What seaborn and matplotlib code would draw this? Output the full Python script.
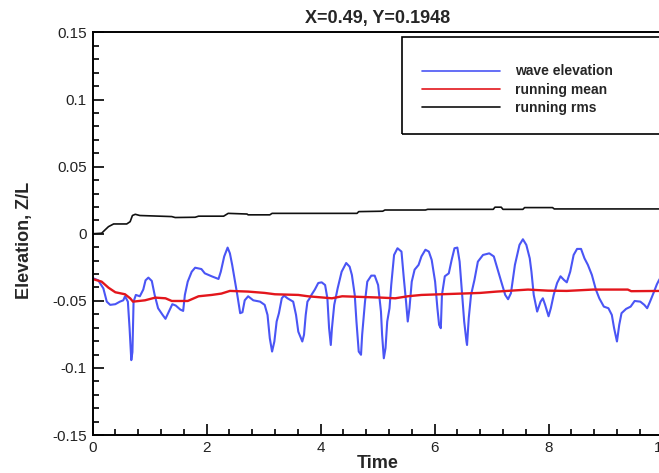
import numpy as np
import pandas as pd
import matplotlib
matplotlib.use("Agg")
import matplotlib.pyplot as plt
from matplotlib.ticker import FixedLocator, MultipleLocator
from matplotlib.patches import Rectangle
import seaborn as sns

# wave elevation probe record
wave_t = [0.00, 0.10, 0.19, 0.25, 0.31, 0.40, 0.48, 0.54, 0.57, 0.62, 0.65, 0.68, 0.70, 0.72,
          0.76, 0.83, 0.89, 0.93, 0.98, 1.04, 1.09, 1.15, 1.23, 1.28, 1.34, 1.40, 1.46, 1.54,
          1.59, 1.62, 1.67, 1.74, 1.80, 1.91, 1.97, 2.09, 2.21, 2.25, 2.31, 2.37, 2.41, 2.45,
          2.50, 2.54, 2.59, 2.63, 2.67, 2.73, 2.82, 2.94, 3.02, 3.07, 3.11, 3.15, 3.19, 3.23,
          3.27, 3.32, 3.36, 3.42, 3.52, 3.57, 3.61, 3.68, 3.71, 3.74, 3.77, 3.81, 3.84, 3.90,
          3.96, 4.02, 4.08, 4.12, 4.15, 4.18, 4.20, 4.24, 4.30, 4.37, 4.45, 4.51, 4.55, 4.60,
          4.63, 4.67, 4.71, 4.73, 4.78, 4.82, 4.89, 4.95, 5.01, 5.06, 5.08, 5.11, 5.14, 5.17,
          5.21, 5.24, 5.29, 5.35, 5.42, 5.46, 5.50, 5.53, 5.56, 5.60, 5.65, 5.72, 5.77, 5.84,
          5.90, 5.95, 6.01, 6.05, 6.08, 6.11, 6.13, 6.18, 6.25, 6.30, 6.35, 6.40, 6.44, 6.48,
          6.52, 6.56, 6.57, 6.60, 6.64, 6.70, 6.76, 6.85, 6.96, 7.04, 7.10, 7.17, 7.24, 7.29,
          7.34, 7.41, 7.49, 7.55, 7.61, 7.67, 7.70, 7.74, 7.80, 7.86, 7.90, 7.94, 8.00, 8.04,
          8.09, 8.15, 8.21, 8.27, 8.32, 8.38, 8.44, 8.50, 8.57, 8.63, 8.69, 8.76, 8.83, 8.89,
          8.97, 9.05, 9.11, 9.15, 9.20, 9.24, 9.28, 9.36, 9.44, 9.51, 9.61, 9.68, 9.73, 9.78,
          9.84, 9.90, 9.93, 10.00]
wave_z = [-0.0330, -0.0347, -0.0407, -0.0506, -0.0530, -0.0525, -0.0506, -0.0496, -0.0466,
          -0.0506, -0.0704, -0.0942, -0.0882, -0.0506, -0.0456, -0.0466, -0.0416, -0.0347,
          -0.0327, -0.0352, -0.0456, -0.0555, -0.0605, -0.0634, -0.0580, -0.0525, -0.0535,
          -0.0565, -0.0575, -0.0456, -0.0357, -0.0283, -0.0253, -0.0263, -0.0295, -0.0317,
          -0.0337, -0.0283, -0.0169, -0.0103, -0.0146, -0.0232, -0.0357, -0.0456, -0.0592,
          -0.0585, -0.0496, -0.0466, -0.0496, -0.0506, -0.0530, -0.0605, -0.0779, -0.0878,
          -0.0803, -0.0654, -0.0592, -0.0481, -0.0461, -0.0481, -0.0506, -0.0605, -0.0730,
          -0.0803, -0.0753, -0.0605, -0.0506, -0.0481, -0.0456, -0.0416, -0.0367, -0.0362,
          -0.0382, -0.0481, -0.0704, -0.0829, -0.0704, -0.0530, -0.0407, -0.0283, -0.0218,
          -0.0245, -0.0307, -0.0456, -0.0654, -0.0878, -0.0902, -0.0753, -0.0506, -0.0357,
          -0.0312, -0.0312, -0.0382, -0.0580, -0.0753, -0.0928, -0.0852, -0.0654, -0.0555,
          -0.0382, -0.0158, -0.0108, -0.0133, -0.0327, -0.0506, -0.0654, -0.0555, -0.0357,
          -0.0268, -0.0232, -0.0169, -0.0119, -0.0133, -0.0195, -0.0357, -0.0555, -0.0679,
          -0.0704, -0.0456, -0.0317, -0.0295, -0.0195, -0.0108, -0.0103, -0.0208, -0.0431,
          -0.0654, -0.0803, -0.0829, -0.0629, -0.0456, -0.0344, -0.0208, -0.0158, -0.0146,
          -0.0169, -0.0257, -0.0357, -0.0456, -0.0488, -0.0443, -0.0232, -0.0083, -0.0041,
          -0.0083, -0.0183, -0.0283, -0.0456, -0.0580, -0.0506, -0.0481, -0.0530, -0.0615,
          -0.0555, -0.0456, -0.0367, -0.0317, -0.0344, -0.0362, -0.0283, -0.0158, -0.0113,
          -0.0113, -0.0183, -0.0232, -0.0307, -0.0416, -0.0481, -0.0543, -0.0555, -0.0605,
          -0.0704, -0.0803, -0.0679, -0.0592, -0.0560, -0.0543, -0.0501, -0.0506, -0.0530,
          -0.0555, -0.0506, -0.0443, -0.0377, -0.0352, -0.0300]

# running mean of the elevation
mean_t = [0.00, 0.16, 0.28, 0.40, 0.57, 0.66, 0.71, 0.92, 1.10, 1.28, 1.39, 1.67, 1.86, 2.09,
          2.26, 2.41, 2.73, 3.02, 3.20, 3.61, 3.78, 4.20, 4.38, 5.07, 5.31, 5.53, 5.77, 6.46,
          6.80, 7.09, 7.64, 7.99, 8.32, 8.78, 9.39, 9.45, 10.00]
mean_z = [-0.0337, -0.0357, -0.0402, -0.0436, -0.0451, -0.0481, -0.0506, -0.0496, -0.0476,
          -0.0481, -0.0501, -0.0501, -0.0466, -0.0456, -0.0446, -0.0426, -0.0431, -0.0441,
          -0.0451, -0.0456, -0.0466, -0.0481, -0.0466, -0.0476, -0.0481, -0.0466, -0.0456,
          -0.0446, -0.0441, -0.0431, -0.0416, -0.0424, -0.0426, -0.0416, -0.0416, -0.0428,
          -0.0426]

# running rms of the elevation
rms_t = [0.00, 0.16, 0.22, 0.28, 0.37, 0.60, 0.66, 0.70, 0.75, 0.83, 1.39, 1.45, 1.80, 1.86,
         2.30, 2.38, 2.71, 2.73, 3.11, 3.15, 3.86, 4.64, 4.67, 5.09, 5.13, 5.84, 5.88, 7.03,
         7.06, 7.17, 7.20, 7.55, 7.58, 8.07, 8.10, 10.00]
rms_z = [0.0000, 0.0004, 0.0029, 0.0053, 0.0073, 0.0073, 0.0090, 0.0136, 0.0145, 0.0136,
         0.0128, 0.0121, 0.0123, 0.0131, 0.0131, 0.0152, 0.0147, 0.0141, 0.0141, 0.0152,
         0.0152, 0.0152, 0.0165, 0.0168, 0.0177, 0.0177, 0.0182, 0.0182, 0.0198, 0.0198,
         0.0182, 0.0182, 0.0195, 0.0195, 0.0185, 0.0185]

series_names = ["wave elevation", "running mean", "running rms"]
series_colors = ["#4a55f5", "#e3161c", "#111111"]

x_ticks = [0, 2, 4, 6, 8, 10]
x_tick_labels = ["0", "2", "4", "6", "8", "10"]
y_ticks = [-0.15, -0.1, -0.05, 0, 0.05, 0.1, 0.15]
y_tick_labels = ["-0.15", "-0.1", "-0.05", "0", "0.05", "0.1", "0.15"]

sns.set_style("ticks")
plt.rcParams["font.family"] = ["Liberation Sans", "DejaVu Sans"]
plt.rcParams["axes.unicode_minus"] = False

fig = plt.figure(figsize=(6.59, 4.73), dpi=100)
ax = fig.add_axes([0.1404, 0.0803, 0.865, 0.851])

frames = [
    pd.DataFrame({"Time": wave_t, "Z": wave_z, "series": series_names[0]}),
    pd.DataFrame({"Time": mean_t, "Z": mean_z, "series": series_names[1]}),
    pd.DataFrame({"Time": rms_t, "Z": rms_z, "series": series_names[2]}),
]
widths = [1.5, 1.7, 1.2]
for df, col, lw in zip(frames, series_colors, widths):
    sns.lineplot(data=df, x="Time", y="Z", color=col, linewidth=lw, ax=ax,
                 estimator=None, sort=False, label=df["series"].iloc[0])

ax.set_xlim(0, 10)
ax.set_ylim(-0.15, 0.15)
ax.xaxis.set_major_locator(FixedLocator(x_ticks))
ax.set_xticklabels(x_tick_labels)
ax.xaxis.set_minor_locator(MultipleLocator(0.4))
ax.yaxis.set_major_locator(FixedLocator(y_ticks))
ax.set_yticklabels(y_tick_labels)
ax.yaxis.set_minor_locator(MultipleLocator(0.01))

ax.tick_params(which="both", direction="in", colors="black", width=1.2,
               top=False, right=False, labelsize=11, labelcolor="#222222")
ax.tick_params(which="major", length=8, pad=4)
ax.tick_params(which="minor", length=4)
for side in ["left", "bottom", "top", "right"]:
    ax.spines[side].set_linewidth(1.4)
    ax.spines[side].set_color("black")
    ax.spines[side].set_visible(True)

ax.set_title("X=0.49, Y=0.1948", fontsize=13, fontweight="bold", pad=7)
ax.set_xlabel("Time", fontsize=13, fontweight="bold", labelpad=0)
ax.set_ylabel("Elevation, Z/L", fontsize=13, fontweight="bold")
ax.yaxis.set_label_coords(-0.104, 0.484)

# framed legend box
ax.add_patch(Rectangle((0.543, 0.748), 0.47, 0.241, transform=ax.transAxes,
                       fill=False, edgecolor="black", linewidth=1.2, clip_on=False))
leg = ax.legend(loc="center left", bbox_to_anchor=(0.578, 0.858), frameon=False,
                borderaxespad=0, borderpad=0, handlelength=5.6, handletextpad=1.1,
                labelspacing=0.3, prop={"size": 10, "weight": "bold"})
for line in leg.get_lines():
    line.set_linewidth(1.2)

fig.savefig("out.png", dpi=100)
